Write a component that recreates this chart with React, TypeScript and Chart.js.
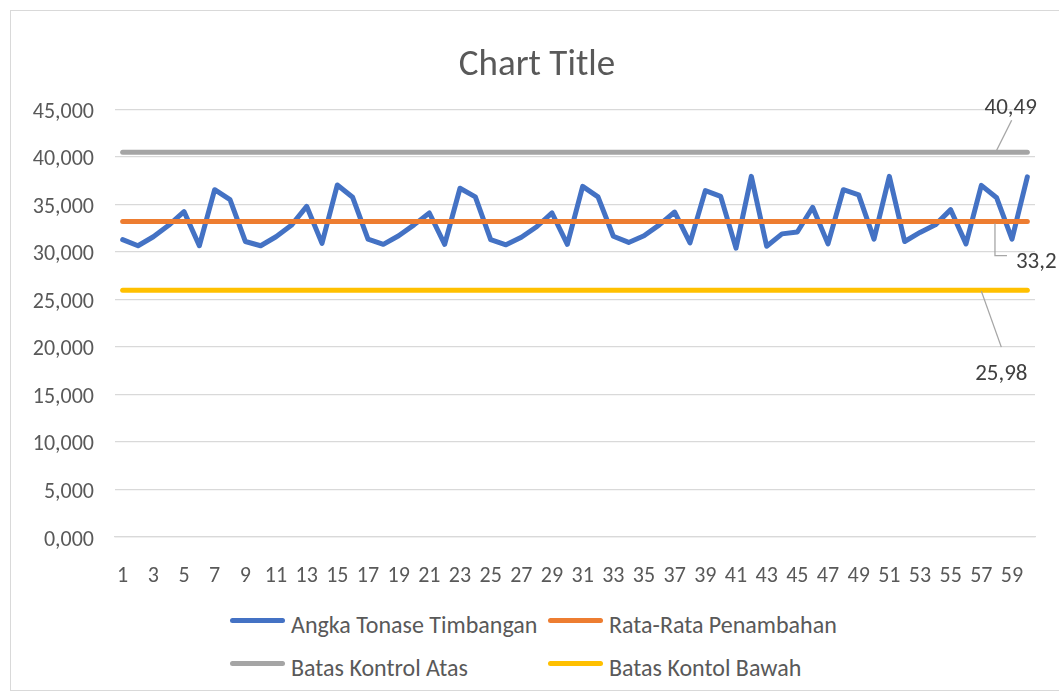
import React, { useEffect, useRef } from 'react';
import { Chart, registerables } from 'chart.js';

Chart.register(...registerables);

const categories = [
  '1', '2', '3', '4', '5', '6', '7', '8', '9', '10',
  '11', '12', '13', '14', '15', '16', '17', '18', '19', '20',
  '21', '22', '23', '24', '25', '26', '27', '28', '29', '30',
  '31', '32', '33', '34', '35', '36', '37', '38', '39', '40',
  '41', '42', '43', '44', '45', '46', '47', '48', '49', '50',
  '51', '52', '53', '54', '55', '56', '57', '58', '59', '60',
];

const angkaTonase = [
  31.3, 30.65, 31.6, 32.8, 34.25, 30.65, 36.55, 35.5, 31.1, 30.65, 31.6, 32.8,
  34.8, 30.9, 37.05, 35.75, 31.35, 30.8, 31.7, 32.85, 34.1, 30.8, 36.7, 35.8,
  31.3, 30.75, 31.55, 32.65, 34.1, 30.8, 36.9, 35.8, 31.65, 31.0, 31.7, 32.85,
  34.2, 30.95, 36.45, 35.85, 30.4, 37.95, 30.6, 31.9, 32.1, 34.7, 30.85, 36.55,
  36.0, 31.35, 37.95, 31.1, 32.05, 32.85, 34.45, 30.85, 37.0, 35.7, 31.35, 37.9,
];

const RATA_RATA = 33.2;
const BATAS_ATAS = 40.49;
const BATAS_BAWAH = 25.98;

const rataRata = categories.map(() => RATA_RATA);
const batasAtas = categories.map(() => BATAS_ATAS);
const batasBawah = categories.map(() => BATAS_BAWAH);

const yTicks = [0, 5, 10, 15, 20, 25, 30, 35, 40, 45];

const TITLE = 'Chart Title';
const FONT = 'Carlito, Lato, sans-serif';
const TEXT = '#595959';

const legendItems = [
  { label: 'Angka Tonase Timbangan', color: '#4472C4', col: 0, row: 0 },
  { label: 'Rata-Rata Penambahan', color: '#ED7D31', col: 1, row: 0 },
  { label: 'Batas Kontrol Atas', color: '#A5A5A5', col: 0, row: 1 },
  { label: 'Batas Kontol Bawah', color: '#FFC000', col: 1, row: 1 },
];

const fmt = (v: number) => String(v).replace('.', ',');

const titlePlugin = {
  id: 'refTitle',
  afterDraw(chart: any) {
    const ctx = chart.ctx as CanvasRenderingContext2D;
    ctx.save();
    ctx.fillStyle = TEXT;
    ctx.font = `37px ${FONT}`;
    ctx.textAlign = 'center';
    ctx.textBaseline = 'middle';
    ctx.fillText(TITLE, 526, 55);
    ctx.restore();
  },
};

const labelPlugin = {
  id: 'refLabels',
  afterDatasetsDraw(chart: any) {
    const ctx = chart.ctx as CanvasRenderingContext2D;
    const xs = chart.scales.x;
    const ys = chart.scales.y;
    ctx.save();
    ctx.strokeStyle = '#A6A6A6';
    ctx.lineWidth = 1.3;
    ctx.fillStyle = '#404040';
    ctx.font = `23px ${FONT}`;
    ctx.textBaseline = 'middle';

    // Batas atas label
    const gx = xs.getPixelForValue(57);
    const gy = ys.getPixelForValue(BATAS_ATAS);
    ctx.beginPath();
    ctx.moveTo(gx, gy - 2);
    ctx.lineTo(gx + 15, gy - 32);
    ctx.stroke();
    ctx.textAlign = 'center';
    ctx.fillText(fmt(BATAS_ATAS), gx + 14, gy - 44);

    // Rata-rata label
    const ox = xs.getPixelForValue(57) - 1.7;
    const oy = ys.getPixelForValue(RATA_RATA);
    ctx.beginPath();
    ctx.moveTo(ox, oy + 2);
    ctx.lineTo(ox, oy + 34);
    ctx.lineTo(ox + 12, oy + 34);
    ctx.stroke();
    ctx.textAlign = 'left';
    ctx.fillText(fmt(RATA_RATA), ox + 21, oy + 41);

    // Batas bawah label
    const yx = xs.getPixelForValue(56);
    const yy = ys.getPixelForValue(BATAS_BAWAH);
    ctx.beginPath();
    ctx.moveTo(yx, yy + 1);
    ctx.lineTo(yx + 20, yy + 57);
    ctx.stroke();
    ctx.textAlign = 'center';
    ctx.fillText(fmt(BATAS_BAWAH), yx + 20, yy + 84);
    ctx.restore();
  },
};

export default function App() {
  const canvasRef = useRef<HTMLCanvasElement | null>(null);

  useEffect(() => {
    if (!canvasRef.current) return;
    const lineDs = (label: string, data: number[], color: string, order: number) => ({
      label,
      data,
      borderColor: color,
      backgroundColor: color,
      borderWidth: 5,
      borderCapStyle: 'round' as const,
      borderJoinStyle: 'round' as const,
      pointRadius: 0,
      pointHoverRadius: 0,
      tension: 0,
      fill: false,
      order,
    });
    const chart = new Chart(canvasRef.current, {
      type: 'line',
      data: {
        labels: categories,
        datasets: [
          lineDs('Angka Tonase Timbangan', angkaTonase, '#4472C4', 4),
          lineDs('Rata-Rata Penambahan', rataRata, '#ED7D31', 3),
          lineDs('Batas Kontrol Atas', batasAtas, '#A5A5A5', 2),
          lineDs('Batas Kontol Bawah', batasBawah, '#FFC000', 1),
        ],
      },
      options: {
        responsive: false,
        animation: false,
        devicePixelRatio: 1,
        layout: { padding: { left: 0, right: 24, top: 98.4, bottom: 0 } },
        plugins: {
          legend: { display: false },
          tooltip: { enabled: false },
          title: { display: false },
        },
        scales: {
          x: {
            type: 'category',
            offset: true,
            grid: { display: false, drawTicks: false },
            border: { display: true, color: '#D9D9D9', width: 1.3 },
            ticks: {
              autoSkip: false,
              maxRotation: 0,
              minRotation: 0,
              padding: 26,
              color: TEXT,
              font: { family: FONT, size: 22 },
              callback: (_v: any, i: number) => (i % 2 === 0 ? categories[i] : ''),
            },
            afterFit: (scale: any) => {
              scale.height = 64;
            },
          },
          y: {
            min: 0,
            max: 45,
            afterBuildTicks: (scale: any) => {
              scale.ticks = yTicks.map((v) => ({ value: v }));
            },
            grid: { color: '#D9D9D9', lineWidth: 1.3, drawTicks: false },
            border: { display: false },
            ticks: {
              padding: 21,
              labelOffset: 3,
              color: TEXT,
              font: { family: FONT, size: 22 },
              callback: (v: any) => Number(v).toFixed(3).replace('.', ','),
            },
            afterFit: (scale: any) => {
              scale.width = 104;
            },
          },
        },
      },
      plugins: [labelPlugin, titlePlugin],
    });
    return () => chart.destroy();
  }, []);

  return (
    <div
      style={{
        position: 'absolute',
        left: 10,
        top: 10,
        width: 1048,
        height: 679,
        borderTop: '1px solid #D9D9D9',
        borderLeft: '1px solid #D9D9D9',
        borderBottom: '1px solid #D9D9D9',
        background: '#fff',
        fontFamily: FONT,
      }}
    >
      <canvas
        ref={canvasRef}
        width={1048}
        height={590}
        style={{ position: 'absolute', left: 0, top: 0, width: 1048, height: 590 }}
      />
      {legendItems.map((it) => {
        const lineLeft = it.col === 0 ? 219 : 537;
        const lineTop = it.row === 0 ? 609 : 652;
        return (
          <div key={it.label}>
            <div
              style={{
                position: 'absolute',
                left: lineLeft,
                top: lineTop - 2.5,
                width: 55,
                height: 5,
                borderRadius: 3,
                background: it.color,
              }}
            />
            <div
              style={{
                position: 'absolute',
                left: lineLeft + 61,
                top: lineTop + 5 - 14,
                height: 28,
                lineHeight: '28px',
                fontSize: 24,
                color: TEXT,
                whiteSpace: 'nowrap',
              }}
            >
              {it.label}
            </div>
          </div>
        );
      })}
    </div>
  );
}
